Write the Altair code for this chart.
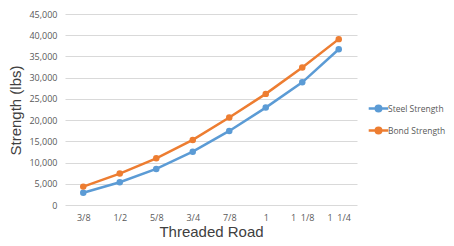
import altair as alt
import pandas as pd

sizes = ["3/8", "1/2", "5/8", "3/4", "7/8", "1", "1\u00a0\u00a01/8", "1\u00a0\u00a01/4"]
steel = [2900, 5350, 8500, 12570, 17450, 22950, 28900, 36700]
bond = [4330, 7400, 11000, 15330, 20600, 26180, 32380, 39080]

rows = []
for s, v in zip(sizes, steel):
    rows.append({"size": s, "value": v, "series": "Steel Strength"})
for s, v in zip(sizes, bond):
    rows.append({"size": s, "value": v, "series": "Bond Strength"})
df = pd.DataFrame(rows)

sym = "M-1.6,0L1.6,0M0.45,0A0.45,0.45,0,1,1,-0.45,0A0.45,0.45,0,1,1,0.45,0Z"

color = alt.Color(
    "series:N",
    scale=alt.Scale(domain=["Steel Strength", "Bond Strength"], range=["#5B9BD5", "#ED7D31"]),
    legend=alt.Legend(
        title=None, orient="none", legendX=306, legendY=87,
        symbolType=sym, symbolSize=150, symbolStrokeWidth=2.5,
        labelFont="Open Sans", labelFontSize=8.5, labelColor="#595959",
        rowPadding=5, labelOffset=2,
    ),
)

chart = alt.Chart(df).mark_line(point=alt.OverlayMarkDef(size=42, filled=True), strokeWidth=2.5).encode(
    x=alt.X("size:N", sort=sizes, title="Threaded Road",
            scale=alt.Scale(paddingInner=0, paddingOuter=0.5),
            axis=alt.Axis(labelAngle=0, ticks=False, domain=False, grid=False,
                          labelFont="Open Sans", labelFontSize=9, labelColor="#595959",
                          labelPadding=8, titleFont="Liberation Sans", titleFontSize=15,
                          titleFontWeight="normal", titleColor="#404040",
                          titleBaseline="alphabetic", titleY=31)),
    y=alt.Y("value:Q", title="Strength (lbs)",
            scale=alt.Scale(domain=[0, 45000]),
            axis=alt.Axis(values=list(range(0, 45001, 5000)), format=",.0f", ticks=False, domain=False,
                          gridColor="#D9D9D9", gridWidth=1,
                          labelFont="Open Sans", labelFontSize=9, labelColor="#595959",
                          labelPadding=8, titleFont="Liberation Sans", titleFontSize=15,
                          titleFontWeight="normal", titleColor="#404040",
                          titleBaseline="alphabetic", titleX=-45, titleY=96)),
    color=color,
).properties(
    width=292, height=191,
    autosize=alt.AutoSizeParams(type="none"),
    padding={"left": 57, "top": 6, "right": 89, "bottom": 33},
).configure_view(stroke=None)

chart.save("out.html", embed_options={"renderer": "svg", "actions": False})
